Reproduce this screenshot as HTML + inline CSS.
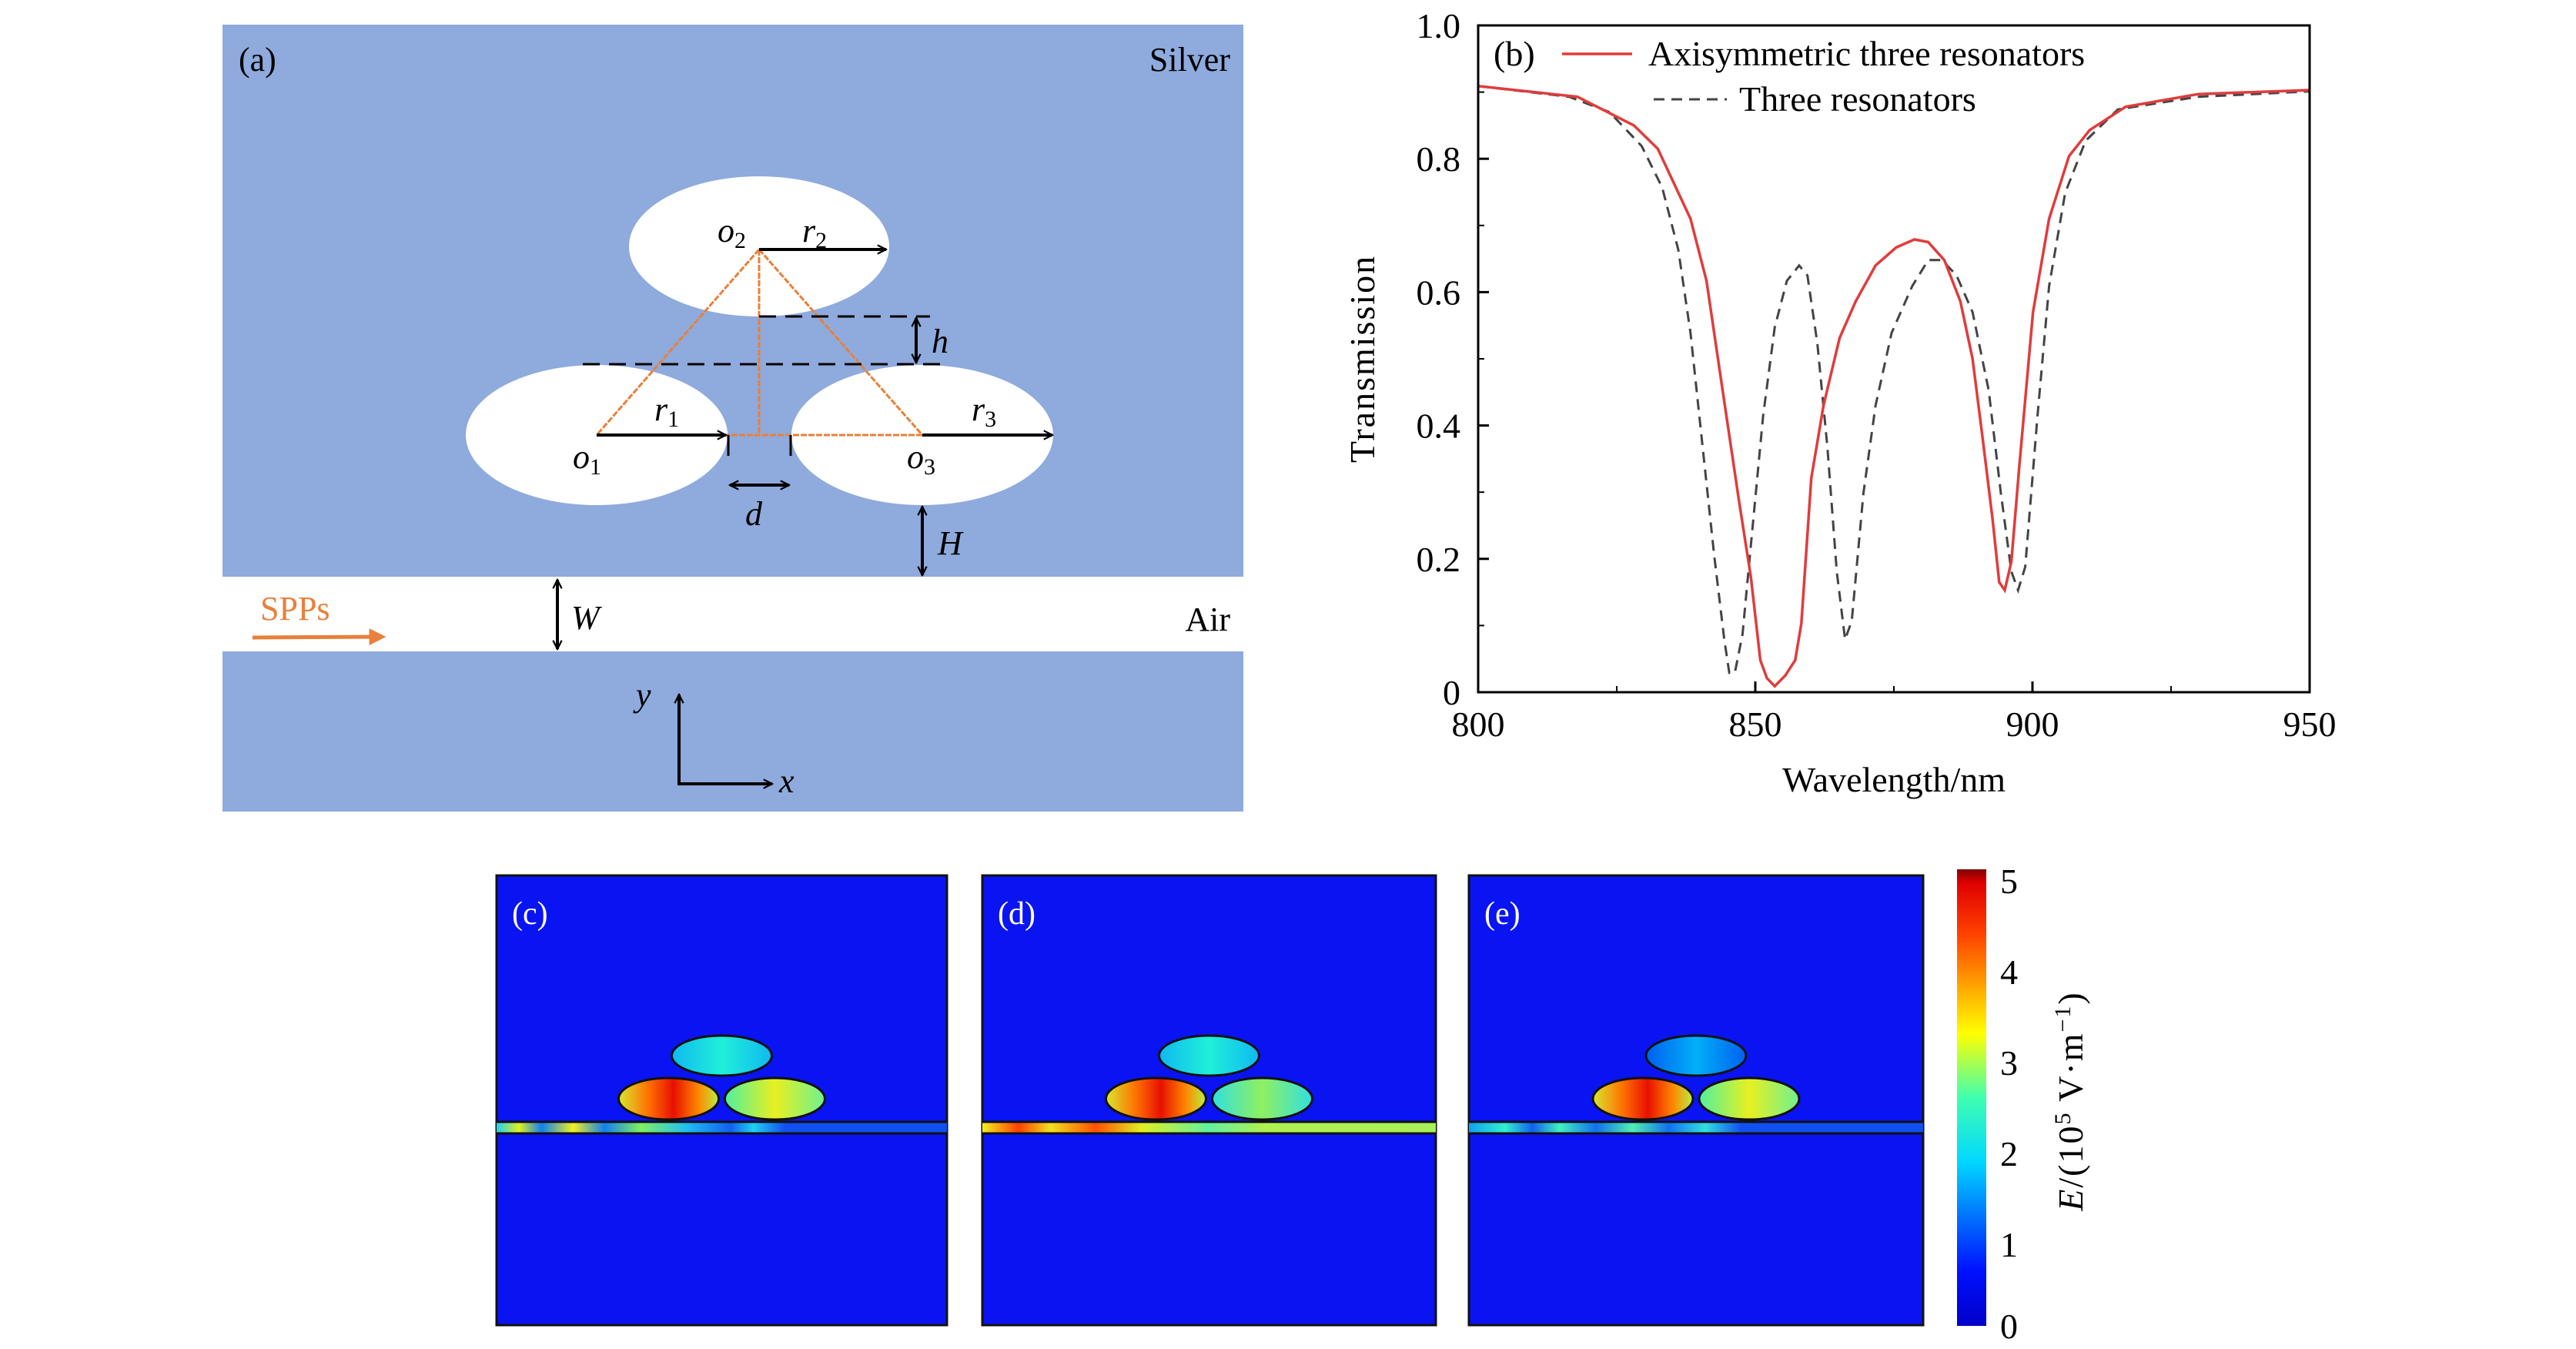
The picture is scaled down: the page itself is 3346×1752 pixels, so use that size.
<!DOCTYPE html>
<html><head><meta charset="utf-8"><style>
html,body{margin:0;padding:0;background:#fff}
svg{display:block}
text{font-family:"Liberation Serif",serif;fill:#000}
</style></head><body>
<svg id="root" width="3346" height="1752" viewBox="0 0 3346 1752" xmlns="http://www.w3.org/2000/svg">
<defs>
 <marker id="ah" viewBox="0 0 10 10" refX="9" refY="5" markerWidth="14" markerHeight="14" markerUnits="userSpaceOnUse" orient="auto-start-reverse"><path d="M1,1 L9,5 L1,9" fill="none" stroke="#000" stroke-width="1.6"/></marker>
 <marker id="aho" viewBox="0 0 10 10" refX="8" refY="5" markerWidth="22" markerHeight="22" markerUnits="userSpaceOnUse" orient="auto"><path d="M0,0 L10,5 L0,10 Z" fill="#e8803a"/></marker>
 <linearGradient id="jet" x1="0" y1="1" x2="0" y2="0">
  <stop offset="0" stop-color="#0000c8"/><stop offset="0.12" stop-color="#0010ff"/><stop offset="0.36" stop-color="#00d8ff"/><stop offset="0.5" stop-color="#40ffb0"/><stop offset="0.64" stop-color="#ffff00"/><stop offset="0.86" stop-color="#ff4000"/><stop offset="0.97" stop-color="#e00000"/><stop offset="1" stop-color="#800000"/>
 </linearGradient>
 <linearGradient id="gRed" x1="0" x2="1"><stop offset="0" stop-color="#d8e830"/><stop offset="0.3" stop-color="#ff7000"/><stop offset="0.55" stop-color="#e81000"/><stop offset="0.8" stop-color="#ff8800"/><stop offset="1" stop-color="#b8f040"/></linearGradient>
 <linearGradient id="gYel" x1="0" x2="1"><stop offset="0" stop-color="#50f0a0"/><stop offset="0.5" stop-color="#e8f020"/><stop offset="1" stop-color="#70f090"/></linearGradient>
 <linearGradient id="gGrn" x1="0" x2="1"><stop offset="0" stop-color="#30e0e0"/><stop offset="0.5" stop-color="#90f060"/><stop offset="1" stop-color="#30e0e0"/></linearGradient>
 <linearGradient id="gCyan" x1="0" x2="1"><stop offset="0" stop-color="#10b8f0"/><stop offset="0.5" stop-color="#20f0d8"/><stop offset="1" stop-color="#10b8f0"/></linearGradient>
 <linearGradient id="gBlue" x1="0" x2="1"><stop offset="0" stop-color="#0060f0"/><stop offset="0.5" stop-color="#00b0f8"/><stop offset="1" stop-color="#0060f0"/></linearGradient>
 <linearGradient id="wgC" x1="0" x2="1">
  <stop offset="0" stop-color="#20d0f0"/><stop offset="0.05" stop-color="#e0f020"/><stop offset="0.1" stop-color="#1080f0"/><stop offset="0.17" stop-color="#f0f020"/><stop offset="0.24" stop-color="#1080f0"/><stop offset="0.32" stop-color="#80f060"/><stop offset="0.42" stop-color="#20c0f0"/><stop offset="0.52" stop-color="#1060f0"/><stop offset="0.57" stop-color="#20d0f0"/><stop offset="0.64" stop-color="#1050f0"/><stop offset="1" stop-color="#1050f0"/>
 </linearGradient>
 <linearGradient id="wgD" x1="0" x2="1">
  <stop offset="0" stop-color="#f0f020"/><stop offset="0.08" stop-color="#ff4000"/><stop offset="0.15" stop-color="#f0e020"/><stop offset="0.25" stop-color="#ff5000"/><stop offset="0.35" stop-color="#e0f020"/><stop offset="0.5" stop-color="#60f0a0"/><stop offset="0.62" stop-color="#b0f050"/><stop offset="1" stop-color="#a8f058"/>
 </linearGradient>
 <linearGradient id="wgE" x1="0" x2="1">
  <stop offset="0" stop-color="#10a0f0"/><stop offset="0.08" stop-color="#30f0d0"/><stop offset="0.14" stop-color="#1060f0"/><stop offset="0.2" stop-color="#40f0c0"/><stop offset="0.28" stop-color="#1070f0"/><stop offset="0.36" stop-color="#50f0b0"/><stop offset="0.44" stop-color="#1070f0"/><stop offset="0.52" stop-color="#30e0e0"/><stop offset="0.6" stop-color="#1050f0"/><stop offset="1" stop-color="#1050f0"/>
 </linearGradient>
</defs>

<g>
 <rect x="289" y="32" width="1326" height="1022" fill="#8faadc"/>
 <rect x="289" y="749" width="1326" height="97" fill="#fff"/>
 <ellipse cx="986" cy="320" rx="169" ry="91" fill="#fff"/>
 <ellipse cx="775" cy="565" rx="170" ry="91" fill="#fff"/>
 <ellipse cx="1198" cy="565" rx="170" ry="91" fill="#fff"/>
 <g stroke="#e8803a" stroke-width="3" fill="none" stroke-dasharray="8,2">
  <line x1="986" y1="324" x2="775" y2="565"/><line x1="986" y1="324" x2="1198" y2="565"/><line x1="986" y1="324" x2="986" y2="565"/><line x1="940" y1="565" x2="1198" y2="565"/>
 </g>
 <g stroke="#000" stroke-width="3" stroke-dasharray="22,12">
  <line x1="986" y1="411" x2="1208" y2="411"/><line x1="757" y1="473" x2="1228" y2="473"/>
 </g>
 <g stroke="#000" stroke-width="4" fill="none">
  <line x1="986" y1="324" x2="1151" y2="324" marker-end="url(#ah)"/>
  <line x1="775" y1="565" x2="943" y2="565" marker-end="url(#ah)"/>
  <line x1="1198" y1="565" x2="1367" y2="565" marker-end="url(#ah)"/>
  <line x1="1190" y1="413" x2="1190" y2="471" marker-start="url(#ah)" marker-end="url(#ah)"/>
  <line x1="946" y1="565" x2="946" y2="592" stroke-width="3"/><line x1="1027" y1="565" x2="1027" y2="592" stroke-width="3"/>
  <line x1="948" y1="630" x2="1025" y2="630" marker-start="url(#ah)" marker-end="url(#ah)"/>
  <line x1="1198" y1="658" x2="1198" y2="747" marker-start="url(#ah)" marker-end="url(#ah)"/>
  <line x1="724" y1="753" x2="724" y2="843" marker-start="url(#ah)" marker-end="url(#ah)"/>
  <line x1="882" y1="1018" x2="882" y2="902" marker-end="url(#ah)"/>
  <line x1="880" y1="1018" x2="1003" y2="1018" marker-end="url(#ah)"/>
 </g>
 <line x1="328" y1="828" x2="497" y2="827" stroke="#e8803a" stroke-width="5" marker-end="url(#aho)"/>
 <text x="310" y="92" font-size="44">(a)</text>
 <text x="1598" y="92" font-size="44" text-anchor="end">Silver</text>
 <text x="1598" y="819" font-size="44" text-anchor="end">Air</text>
 <text x="338" y="805" font-size="44" style="fill:#e8803a">SPPs</text>
 <g font-style="italic" font-size="44">
  <text x="932" y="314">o<tspan font-size="30" font-style="normal" dy="8">2</tspan></text>
  <text x="1042" y="314">r<tspan font-size="30" font-style="normal" dy="8">2</tspan></text>
  <text x="744" y="608">o<tspan font-size="30" font-style="normal" dy="8">1</tspan></text>
  <text x="850" y="546">r<tspan font-size="30" font-style="normal" dy="8">1</tspan></text>
  <text x="1178" y="608">o<tspan font-size="30" font-style="normal" dy="8">3</tspan></text>
  <text x="1262" y="546">r<tspan font-size="30" font-style="normal" dy="8">3</tspan></text>
  <text x="1210" y="458">h</text>
  <text x="968" y="682">d</text>
  <text x="1218" y="720">H</text>
  <text x="742" y="817">W</text>
  <text x="826" y="917">y</text>
  <text x="1012" y="1029">x</text>
 </g>
</g>

<g id="chartB"></g>
<g id="fields"></g>

<g>
 <rect x="2542" y="1129" width="38" height="593" fill="url(#jet)"/>
 <g font-size="46">
  <text x="2598" y="1160">5</text><text x="2598" y="1278">4</text><text x="2598" y="1396">3</text><text x="2598" y="1514">2</text><text x="2598" y="1632">1</text><text x="2598" y="1738">0</text>
 </g>
 <text transform="translate(2705,1430) rotate(-90)" text-anchor="middle" font-size="46" letter-spacing="2"><tspan font-style="italic">E</tspan>/(10<tspan font-size="30" dy="-16">5</tspan><tspan dy="16"> V·m</tspan><tspan font-size="30" dy="-16">−1</tspan><tspan dy="16">)</tspan></text>
</g>
</svg>
<script>
const NS="http://www.w3.org/2000/svg";
const wlTicks=[800,850,900,950];
const tTicks=[0,0.2,0.4,0.6,0.8,1.0];
const tTickLabels=["0","0.2","0.4","0.6","0.8","1.0"];
const redX=[800,817.9,828.1,832.4,838.3,841.2,844.1,847,849.2,850.9,852.1,853.5,855.4,857.2,858.3,860.1,862.3,865.2,868.1,871.7,875.4,878.7,881.2,884.1,887,889.2,891.1,892.8,894,895,896.2,897.6,900.1,903,906.6,910.3,916.8,929.9,950];
const redY=[0.909,0.893,0.850,0.815,0.710,0.617,0.453,0.29,0.173,0.048,0.021,0.009,0.025,0.048,0.103,0.321,0.43,0.531,0.586,0.640,0.667,0.679,0.675,0.648,0.586,0.5,0.375,0.259,0.165,0.153,0.196,0.336,0.570,0.710,0.804,0.843,0.878,0.897,0.903];
const dashX=[800,816.4,823.7,829.5,833.2,836.1,838.3,840.4,842.6,844.4,845.3,846.3,847.7,849.2,851.4,853.5,855.7,857.9,859.4,861.2,863,864.7,866.2,867.4,869.5,871.7,874.6,878.3,881.2,883.7,886.3,889.2,892.1,894.3,896.2,897.4,898.7,900.9,903,905.9,909.6,915.4,929.9,950];
const dashY=[0.909,0.893,0.870,0.819,0.757,0.664,0.539,0.375,0.204,0.079,0.029,0.029,0.087,0.220,0.414,0.547,0.617,0.640,0.625,0.523,0.368,0.181,0.079,0.107,0.298,0.430,0.539,0.609,0.648,0.648,0.625,0.570,0.453,0.298,0.181,0.153,0.188,0.414,0.609,0.749,0.827,0.874,0.893,0.901];

const L=1920,R=3000,T=33,B=899;
const sx=v=>L+(v-800)/150*(R-L);
const sy=v=>B-v*(B-T);
const g=document.getElementById('chartB');
function mk(tag,attrs,parent){const e=document.createElementNS(NS,tag);for(const k in attrs)e.setAttribute(k,attrs[k]);(parent||g).appendChild(e);return e;}
function pathOf(xs,ys){return xs.map((x,i)=>(i?'L':'M')+sx(x).toFixed(1)+','+sy(ys[i]).toFixed(1)).join(' ');}

const dl=mk('path',{d:pathOf(dashX,dashY),fill:'none',stroke:'#444','stroke-width':3,'stroke-dasharray':'14,9'});


const rl=mk('path',{d:pathOf(redX,redY),fill:'none',stroke:'#e03c3c','stroke-width':3.5});


const frame=mk('rect',{x:L,y:T,width:R-L,height:B-T,fill:'none',stroke:'#000','stroke-width':3});


wlTicks.forEach(v=>{
 mk('line',{x1:sx(v),x2:sx(v),y1:B,y2:B-14,stroke:'#000','stroke-width':3});
 const t=mk('text',{x:sx(v),y:956,'font-size':46,'text-anchor':'middle'});t.textContent=v;
 
 
});
for(let i=0;i<wlTicks.length-1;i++){const m=(wlTicks[i]+wlTicks[i+1])/2;mk('line',{x1:sx(m),x2:sx(m),y1:B,y2:B-8,stroke:'#000','stroke-width':2});}
tTicks.forEach((v,i)=>{
 mk('line',{x1:L,x2:L+14,y1:sy(v),y2:sy(v),stroke:'#000','stroke-width':3});
 const t=mk('text',{x:1897,y:sy(v)+16,'font-size':46,'text-anchor':'end'});t.textContent=tTickLabels[i];
 
 
 if(i<tTicks.length-1){const m=(v+tTicks[i+1])/2;mk('line',{x1:L,x2:L+8,y1:sy(m),y2:sy(m),stroke:'#000','stroke-width':2});}
});
const xt=mk('text',{x:2460,y:1028,'font-size':46,'text-anchor':'middle'});xt.textContent='Wavelength/nm';


const yt=mk('text',{transform:'translate(1785,466) rotate(-90)','font-size':46,'text-anchor':'middle','letter-spacing':'2'});yt.textContent='Transmission';


const bl=mk('text',{x:1940,y:85,'font-size':46});bl.textContent='(b)';


mk('line',{x1:2029,x2:2120,y1:70,y2:70,stroke:'#e03c3c','stroke-width':3.5});
const l1=mk('text',{x:2141,y:85,'font-size':46});l1.textContent='Axisymmetric three resonators';


mk('line',{x1:2148,x2:2243,y1:129,y2:129,stroke:'#444','stroke-width':3,'stroke-dasharray':'14,9'});
const l2=mk('text',{x:2259,y:144,'font-size':46});l2.textContent='Three resonators';



const panels=[{x:645,w:585,lab:'(c)',wg:'wgC',f:['gRed','gYel','gCyan'],n:'panel-c'},
 {x:1276,w:589,lab:'(d)',wg:'wgD',f:['gRed','gGrn','gCyan'],n:'panel-d'},
 {x:1908,w:590,lab:'(e)',wg:'wgE',f:['gRed','gYel','gBlue'],n:'panel-e'}];
const fg=document.getElementById('fields');
panels.forEach(p=>{
 const pg=mk('g',{},fg);
 
 
 mk('rect',{x:p.x,y:1137,width:p.w,height:584,fill:'#0a14f2',stroke:'#111','stroke-width':3},pg);
 mk('rect',{x:p.x,y:1457,width:p.w,height:15,fill:'url(#'+p.wg+')'},pg);
 mk('line',{x1:p.x,x2:p.x+p.w,y1:1457,y2:1457,stroke:'#111','stroke-width':3},pg);
 mk('line',{x1:p.x,x2:p.x+p.w,y1:1472,y2:1472,stroke:'#111','stroke-width':3},pg);
 const o=p.x+p.w*0.5;
 mk('ellipse',{cx:o-69,cy:1427,rx:65,ry:27,fill:'url(#'+p.f[0]+')',stroke:'#111','stroke-width':3},pg);
 mk('ellipse',{cx:o+69,cy:1427,rx:65,ry:27,fill:'url(#'+p.f[1]+')',stroke:'#111','stroke-width':3},pg);
 mk('ellipse',{cx:o,cy:1371,rx:65,ry:26,fill:'url(#'+p.f[2]+')',stroke:'#111','stroke-width':3},pg);
 const t=mk('text',{x:p.x+20,y:1200,'font-size':42,style:'fill:#fff'},pg);t.textContent=p.lab;
 
 
});
</script>
</body></html>
